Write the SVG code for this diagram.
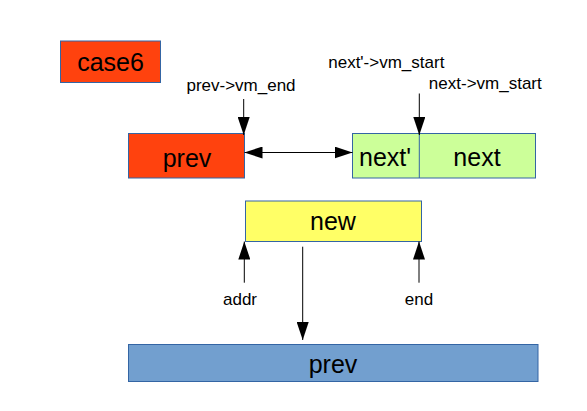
<svg xmlns="http://www.w3.org/2000/svg" width="587" height="411" viewBox="0 0 587 411">
<style>
.box{stroke:#3465a4;stroke-width:1}
.red{fill:#ff420e}
.green{fill:#ccff99}
.yellow{fill:#ffff66}
.blue{fill:#729fcf}
.big{font-family:"Liberation Sans",Arial,sans-serif;font-size:25px;fill:#000;text-anchor:middle}
.lbl{font-family:"Liberation Sans",Arial,sans-serif;font-size:17px;fill:#000;text-anchor:middle}
.conn{stroke:#000;stroke-width:1;fill:none;marker-end:url(#ah)}
</style>
<defs>
<marker id="ah" markerUnits="userSpaceOnUse" markerWidth="18" markerHeight="12" refX="18" refY="6" orient="auto-start-reverse">
<path d="M0,0 L18,6 L0,12 z" fill="#000"/>
</marker>
</defs>
<rect width="587" height="411" fill="#fff"/>
<g id="case6">
<rect class="box red" x="60.5" y="41" width="100" height="41.5"/>
<text class="big" x="110.5" y="71">case6</text>
</g>
<g id="prev_top">
<rect class="box red" x="128.5" y="133.5" width="116" height="44.5"/>
<text class="big" x="187" y="167">prev</text>
</g>
<g id="next">
<rect class="box green" x="352.5" y="133.5" width="183" height="44.5"/>
<line x1="419.3" y1="133.5" x2="419.3" y2="178" stroke="#3465a4" stroke-width="1"/>
<text class="big" x="385" y="166">next'</text>
<text class="big" x="477" y="166">next</text>
</g>
<g id="new">
<rect class="box yellow" x="245.5" y="201" width="176" height="40.5"/>
<text class="big" x="333" y="230">new</text>
</g>
<g id="prev_bottom">
<rect class="box blue" x="128.5" y="344.5" width="409.5" height="37"/>
<text class="big" x="333" y="373">prev</text>
</g>
<g id="labels">
<text class="lbl" x="241" y="91">prev-&gt;vm_end</text>
<text class="lbl" x="386.3" y="67.5">next'-&gt;vm_start</text>
<text class="lbl" x="485.3" y="88.5">next-&gt;vm_start</text>
<text class="lbl" x="240" y="304.5">addr</text>
<text class="lbl" x="419" y="304.5">end</text>
</g>
<g id="connectors">
<line class="conn" x1="243.7" y1="99" x2="243.7" y2="135"/>
<line class="conn" x1="244.5" y1="152.5" x2="352.5" y2="152.5" style="marker-start:url(#ah)"/>
<line class="conn" x1="419.3" y1="93.5" x2="419.3" y2="135"/>
<line class="conn" x1="244.3" y1="282.7" x2="244.3" y2="241.5"/>
<line class="conn" x1="419" y1="282.7" x2="419" y2="241.5"/>
<line class="conn" x1="302.7" y1="246.7" x2="302.7" y2="340"/>
</g>
</svg>
